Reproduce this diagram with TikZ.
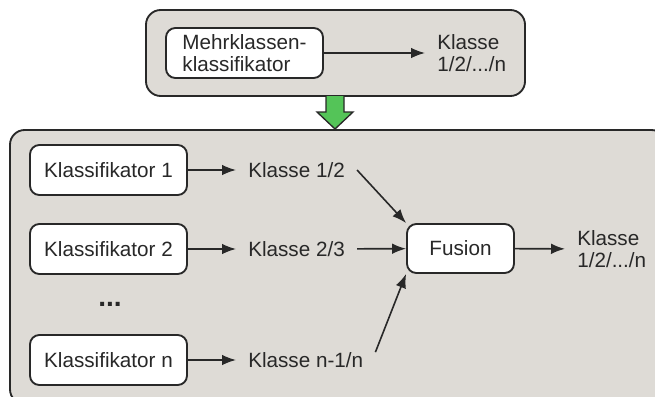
\documentclass[tikz,border=0pt]{standalone}
\usepackage{fontspec}
\setmainfont{Liberation Sans}
\usetikzlibrary{arrows.meta}

\definecolor{boxgray}{RGB}{222,219,214}
\definecolor{linegray}{RGB}{40,40,40}
\definecolor{arrowgreen}{RGB}{84,196,88}

\tikzset{
  frame/.style={fill=boxgray, draw=linegray, line width=1.4pt, rounded corners=11pt},
  block/.style={draw=linegray, fill=white, line width=1.4pt, rounded corners=7pt,
    align=left, inner sep=0pt, minimum width=117.75pt, minimum height=37.5pt},
  result/.style={align=left, inner xsep=9pt, inner ysep=0pt},
  link/.style={draw=linegray, line width=1.2pt, -{Latex[length=10.5pt,width=8pt]}},
}

\begin{document}
\begin{tikzpicture}[x=0.75pt,y=-0.75pt,font=\fontsize{15.5}{16.5}\selectfont,text=linegray]
    \clip (0,0) rectangle (655,396);

    % the two grey panels
    \draw[frame] (146,10) rectangle (525,96);
    \draw[frame] (10,130) rectangle (666,404);

    % single multi-class classifier
    \node[block] (mk) at (244.5,53) {Mehrklassen-\\klassifikator};
    \node[result,anchor=west] (mkout) at (425,53) {Klasse\\1/2/.../n};
    \draw[link] (mk) -- (mkout);

    % green arrow between the panels
    \draw[fill=arrowgreen, draw=linegray, line width=1pt, line join=miter]
        (326,96) -- (326,112) -- (317,112) -- (335,129) -- (353,112) -- (344,112) -- (344,96);

    % pairwise classifiers
    \node[block] (k1) at (108.5,170) {Klassifikator 1};
    \node[block] (k2) at (108.5,249) {Klassifikator 2};
    \node[font=\bfseries\fontsize{21}{22}\selectfont] (dots) at (110,304) {...};
    \node[block] (kn) at (108.5,360) {Klassifikator n};

    \node[result,anchor=west] (c1) at (236,170) {Klasse 1/2};
    \node[result,anchor=west] (c2) at (236,249) {Klasse 2/3};
    \node[result,anchor=west] (cn) at (236,360) {Klasse n-1/n};

    \draw[link] (k1) -- (c1);
    \draw[link] (k2) -- (c2);
    \draw[link] (kn) -- (cn);

    % fusion of the single results
    \node[block,align=center,minimum width=80.25pt,minimum height=36.75pt] (fusion) at (460.5,248.5) {Fusion};
    \node[result,anchor=west] (fout) at (565,249) {Klasse\\1/2/.../n};

    \draw[link] (c1.east) -- (fusion.north west);
    \draw[link] (c2) -- (fusion);
    \draw[link] (cn.north east) -- (fusion.south west);
    \draw[link] (fusion) -- (fout);
\end{tikzpicture}
\end{document}
